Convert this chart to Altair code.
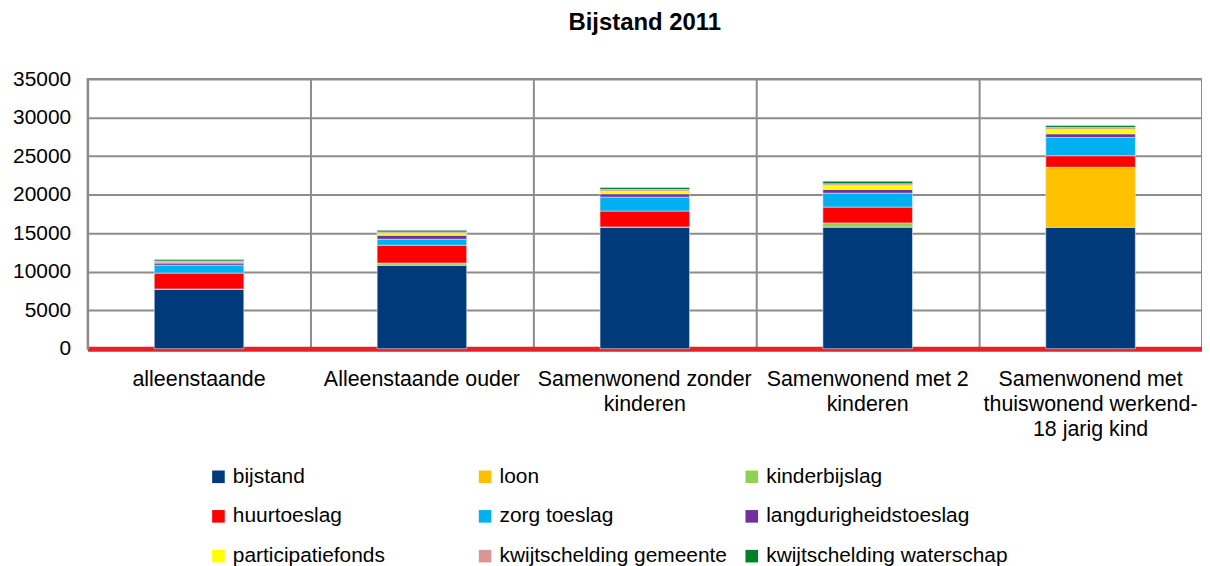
import altair as alt
import pandas as pd

categories = [
    "alleenstaande",
    "Alleenstaande ouder",
    "Samenwonend zonder\nkinderen",
    "Samenwonend met 2\nkinderen",
    "Samenwonend met\nthuiswonend werkend-\n18 jarig kind",
]
series = [
    "bijstand", "loon", "kinderbijslag",
    "huurtoeslag", "zorg toeslag", "langdurigheidstoeslag",
    "participatiefonds", "kwijtschelding gemeente", "kwijtschelding waterschap",
]
colors = ["#003A7A", "#FFC000", "#92D050", "#FF0000", "#00B0F0", "#7030A0",
          "#FFFF00", "#D99694", "#00802A"]

bijstand = [7750, 10850, 15800, 15800, 15750]
loon = [0, 0, 0, 0, 7800]
kinderbijslag = [0, 260, 0, 520, 0]
huurtoeslag = [2060, 2320, 2070, 2060, 1500]
zorg_toeslag = [1030, 775, 1800, 1810, 2370]
langdurigheidstoeslag = [300, 520, 440, 480, 470]
participatiefonds = [0, 215, 350, 520, 600]
kwijtschelding_gemeente = [250, 215, 200, 210, 210]
kwijtschelding_waterschap = [200, 215, 250, 340, 260]

values = [bijstand, loon, kinderbijslag, huurtoeslag, zorg_toeslag,
          langdurigheidstoeslag, participatiefonds, kwijtschelding_gemeente,
          kwijtschelding_waterschap]

rows = []
for si, (s, vals) in enumerate(zip(series, values)):
    for c, v in zip(categories, vals):
        rows.append({"categorie": c, "reeks": s, "waarde": v, "volgorde": si})
df = pd.DataFrame(rows)

FONT = "Liberation Sans"

chart = alt.Chart(df).mark_bar(size=90, stroke="#dfe8f0", strokeWidth=0.6).encode(
    x=alt.X("categorie:N", sort=categories, title=None,
            scale=alt.Scale(paddingInner=0, paddingOuter=0),
            axis=alt.Axis(labelAngle=0, labelExpr="split(datum.label, '\\n')",
                          labelFontSize=21.5, labelColor="#000", labelFont=FONT,
                          labelLineHeight=25, labelPadding=20, ticks=False,
                          domainColor="#E8202A", domainWidth=5,
                          grid=True, gridColor="#8c8c8c", gridWidth=2,
                          bandPosition=0, labelBound=False, labelOverlap=False,
                          labelLimit=400)),
    y=alt.Y("waarde:Q", stack="zero", title=None,
            scale=alt.Scale(domain=[0, 35000], nice=False),
            axis=alt.Axis(values=list(range(0, 35001, 5000)), labelFontSize=21,
                          labelFont=FONT, labelColor="#000", labelPadding=17,
                          ticks=False, domainColor="#8c8c8c", domainWidth=2,
                          gridColor="#8c8c8c", gridWidth=2, format="d")),
    color=alt.Color("reeks:N", sort=series,
                    scale=alt.Scale(domain=series, range=colors),
                    legend=alt.Legend(orient="none", legendX=121, legendY=389,
                                      columns=3, direction="horizontal", title=None,
                                      symbolType="square", symbolSize=160,
                                      symbolStrokeWidth=0, labelFontSize=21,
                                      labelFont=FONT, labelColor="#000",
                                      labelLimit=400,
                                      gridAlign="all", columnPadding=0,
                                      rowPadding=18, labelOffset=4)),
    order=alt.Order("volgorde:Q", sort="ascending"),
).properties(
    width=1120, height=271,
    title=alt.TitleParams("Bijstand 2011", fontSize=24, font=FONT, fontWeight="bold",
                          color="#000", offset=33),
    padding={"left": 4, "top": 2, "right": 0, "bottom": 0},
).configure_view(stroke="#8c8c8c", strokeWidth=2)

chart.save("out.html", embed_options={"renderer": "svg", "actions": False})
